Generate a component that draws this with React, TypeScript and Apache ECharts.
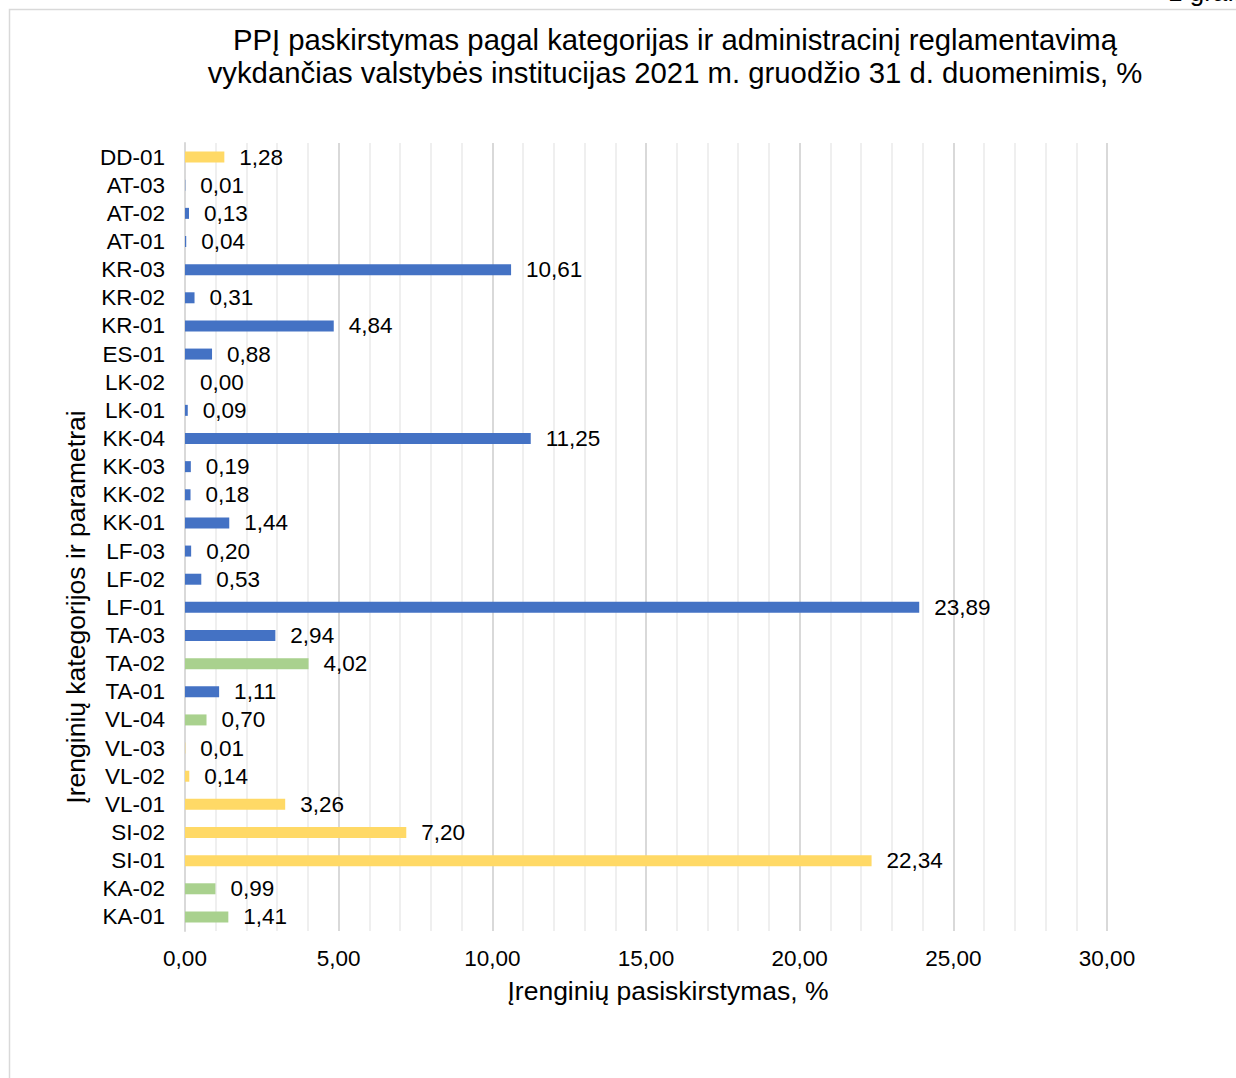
import React, { useEffect, useRef } from "react";
import * as echarts from "echarts";

const categories = [
  "KA-01", "KA-02", "SI-01", "SI-02", "VL-01", "VL-02", "VL-03", "VL-04",
  "TA-01", "TA-02", "TA-03", "LF-01", "LF-02", "LF-03", "KK-01", "KK-02",
  "KK-03", "KK-04", "LK-01", "LK-02", "ES-01", "KR-01", "KR-02", "KR-03",
  "AT-01", "AT-02", "AT-03", "DD-01",
];
const values = [
  1.41, 0.99, 22.34, 7.2, 3.26, 0.14, 0.01, 0.7,
  1.11, 4.02, 2.94, 23.89, 0.53, 0.2, 1.44, 0.18,
  0.19, 11.25, 0.09, 0.0, 0.88, 4.84, 0.31, 10.61,
  0.04, 0.13, 0.01, 1.28,
];
// g = green, y = yellow, b = blue
const groups = [
  "g", "g", "y", "y", "y", "y", "y", "g",
  "b", "g", "b", "b", "b", "b", "b", "b",
  "b", "b", "b", "b", "b", "b", "b", "b",
  "b", "b", "b", "y",
];
const colorMap: Record<string, string> = { g: "#A9D18E", y: "#FFD966", b: "#4472C4" };

const titleLines = [
  "PPĮ paskirstymas pagal kategorijas ir administracinį reglamentavimą",
  "vykdančias valstybės institucijas 2021 m. gruodžio 31 d. duomenimis, %",
];
const xName = "Įrenginių pasiskirstymas, %";
const yName = "Įrenginių kategorijos ir parametrai";

const FONT = "'Liberation Sans', Arial, sans-serif";
const fmt = (v: number) => v.toFixed(2).replace(".", ",");

export default function App() {
  const ref = useRef<HTMLDivElement>(null);
  useEffect(() => {
    document.body.style.margin = "0";
    const chart = echarts.init(ref.current!, null, { renderer: "svg" });
    chart.setOption({
      animation: false,
      backgroundColor: "#ffffff",
      textStyle: { fontFamily: FONT },
      title: {
        text: titleLines.join("\n"),
        left: 670,
        textAlign: "center",
        top: 18,
        textStyle: { fontFamily: FONT, fontSize: 29.3, fontWeight: "normal", color: "#000", lineHeight: 33 },
      },
      graphic: [
        {
          type: "rect",
          shape: { x: 9.5, y: 9.5, width: 1400, height: 1300 },
          style: { fill: "none", stroke: "#d9d9d9", lineWidth: 1.5 },
          silent: true,
        },
        {
          type: "text",
          x: 1168,
          y: 5,
          style: { text: "1 grafikas", fontFamily: FONT, fontSize: 26, fill: "#000", textVerticalAlign: "bottom" },
        },
        {
          type: "text",
          x: 668,
          y: 991,
          style: {
            text: xName, fontFamily: FONT, fontSize: 26.5, fill: "#000",
            textAlign: "center", textVerticalAlign: "middle",
          },
        },
        {
          type: "text",
          x: 76,
          y: 607,
          rotation: Math.PI / 2,
          style: {
            text: yName, fontFamily: FONT, fontSize: 26.5, fill: "#000",
            textAlign: "center", textVerticalAlign: "middle",
          },
        },
      ],
      grid: { left: 185, right: 129, top: 143, bottom: 147, containLabel: false },
      xAxis: {
        type: "value",
        min: 0,
        max: 30,
        interval: 5,
        axisLine: { show: false },
        axisTick: { show: false },
        axisLabel: { formatter: (v: number) => fmt(v), fontFamily: FONT, fontSize: 22.5, color: "#000", margin: 16 },
        splitLine: { show: true, lineStyle: { color: "#d9d9d9", width: 2 } },
        minorTick: { show: false, splitNumber: 5 },
        minorSplitLine: { show: true, lineStyle: { color: "#efefef", width: 2 } },
      },
      yAxis: {
        type: "category",
        data: categories,
        axisLine: { show: true, lineStyle: { color: "#d9d9d9", width: 2 } },
        axisTick: { show: false },
        axisLabel: { interval: 0, fontFamily: FONT, fontSize: 22.5, color: "#000", margin: 20 },
      },
      series: [
        {
          type: "bar",
          barWidth: 11,
          data: values.map((v, i) => ({ value: v, itemStyle: { color: colorMap[groups[i]] } })),
          label: {
            show: true,
            position: "right",
            distance: 15,
            formatter: (p: any) => fmt(p.value),
            fontFamily: FONT,
            fontSize: 22.5,
            color: "#000",
          },
          labelLayout: { hideOverlap: false },
        },
      ],
    });
    return () => chart.dispose();
  }, []);
  return <div ref={ref} style={{ width: 1236, height: 1078 }} />;
}
